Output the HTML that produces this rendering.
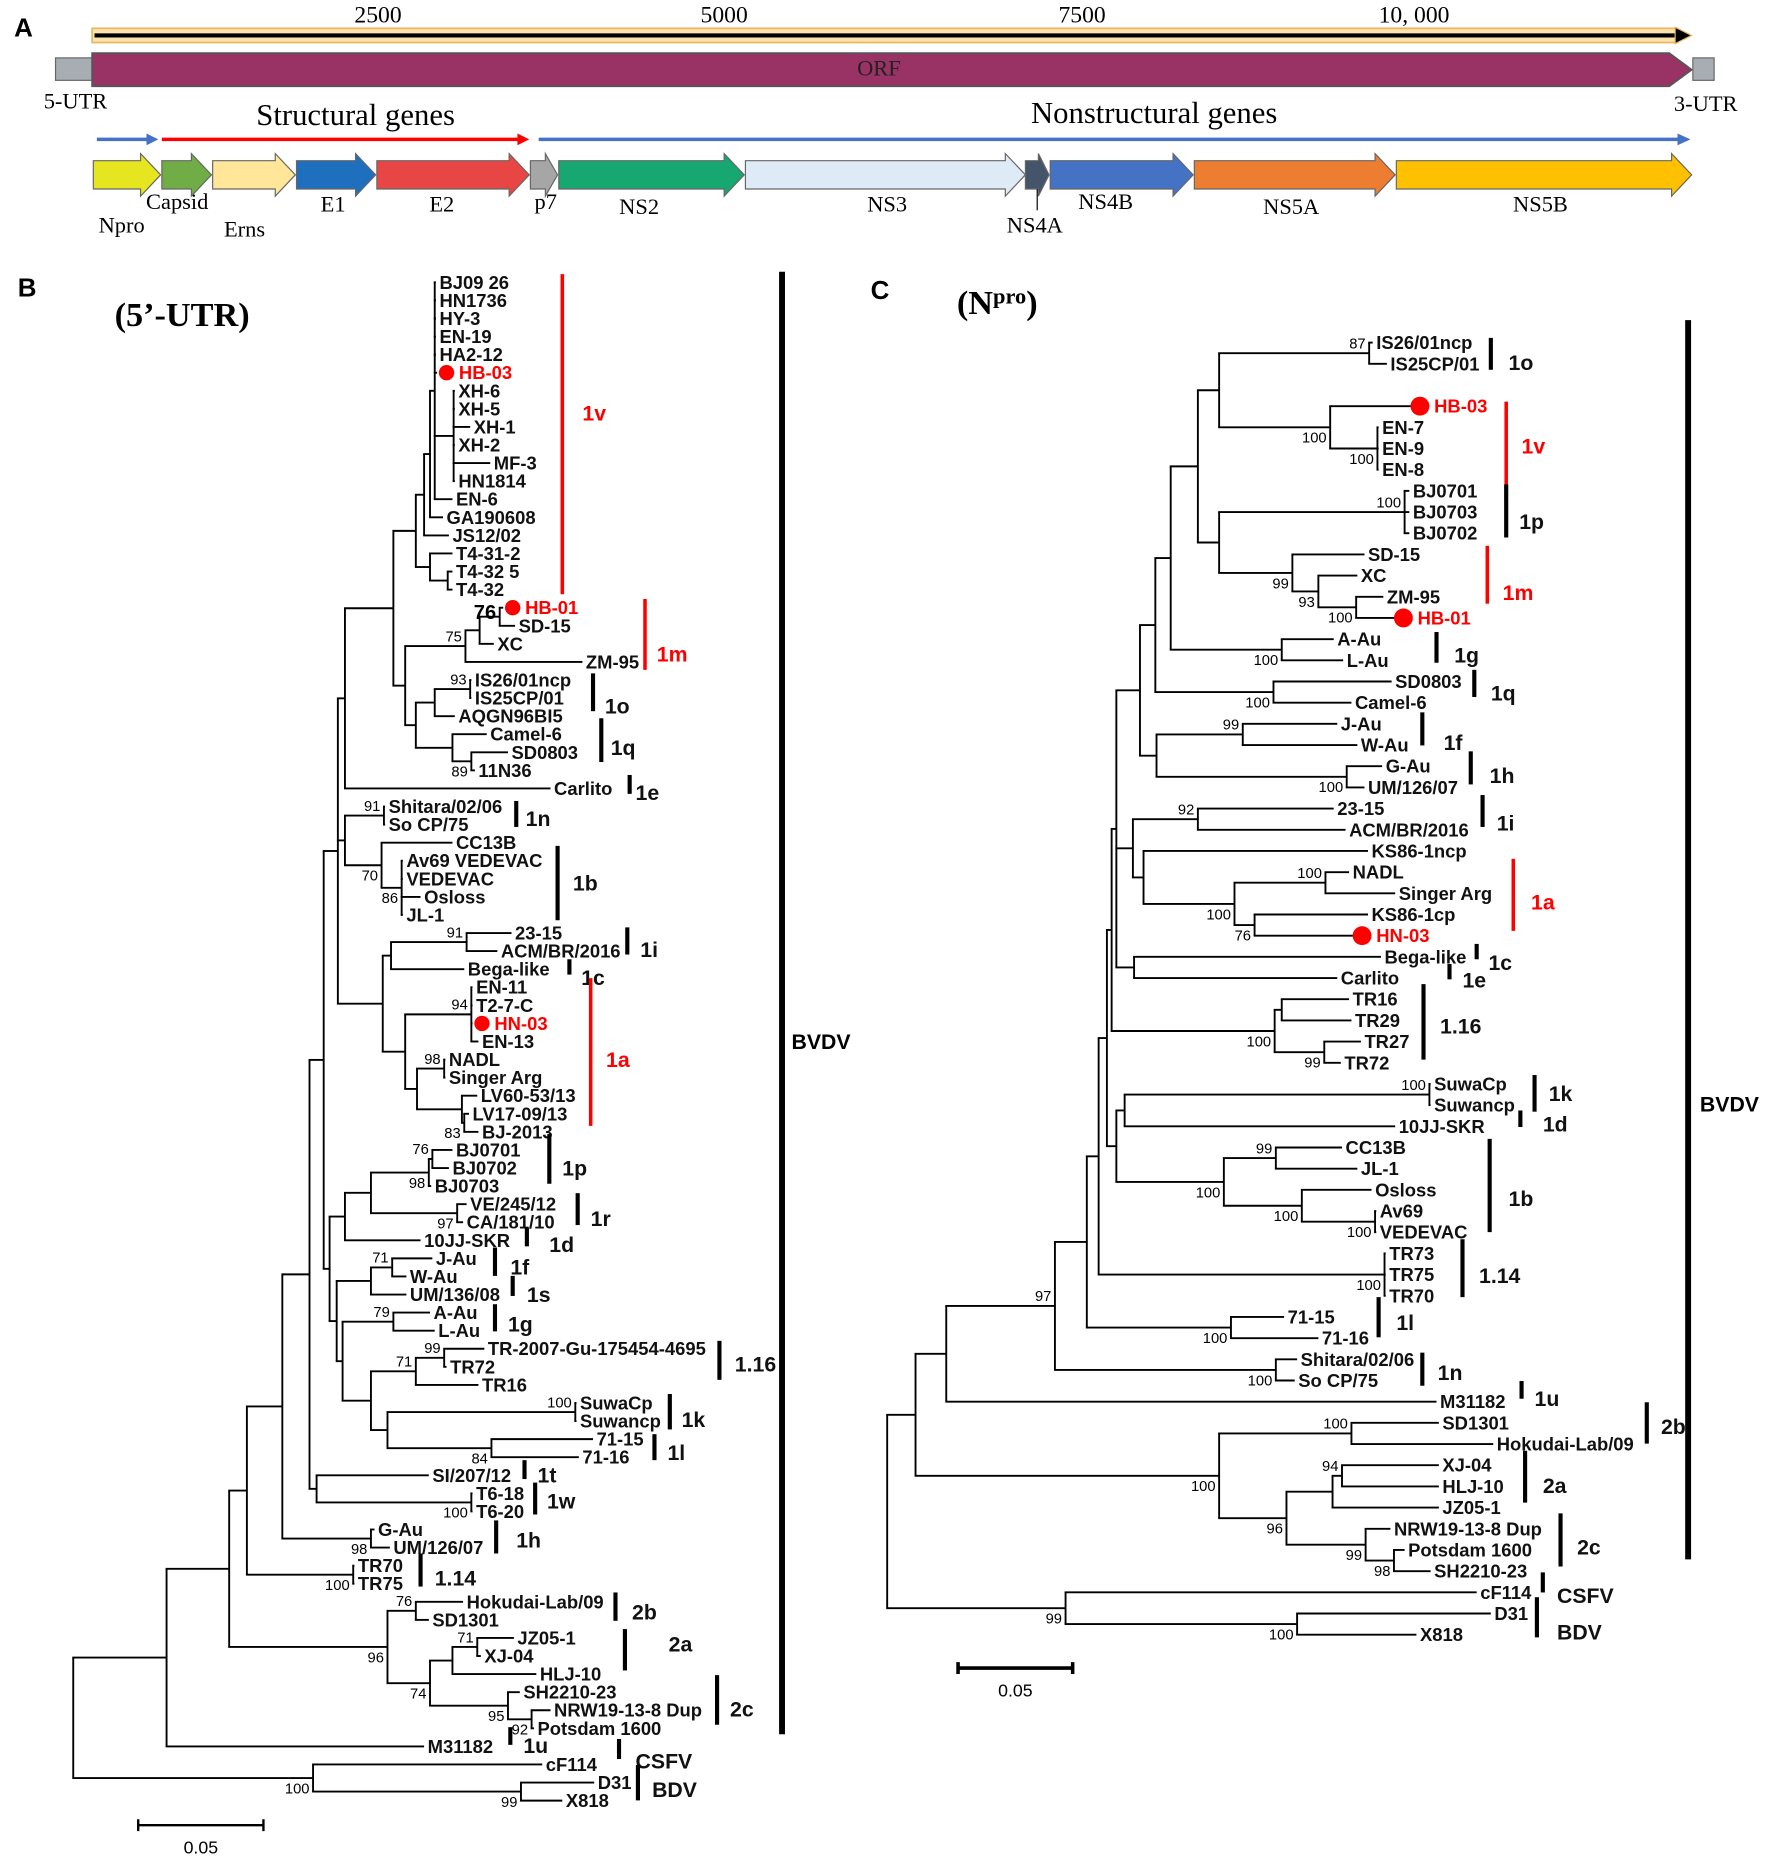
<!DOCTYPE html>
<html><head><meta charset="utf-8"><title>BVDV genome and phylogenetic trees</title>
<style>
html,body{margin:0;padding:0;background:#fff;}
svg{display:block;}
.sf{font-family:"Liberation Serif",serif;}
.ss{font-family:"Liberation Sans",sans-serif;}
</style></head>
<body>
<svg id="fig" width="1772" height="1863" viewBox="0 0 1500 1577" preserveAspectRatio="none" xmlns="http://www.w3.org/2000/svg">
<rect x="0" y="0" width="1500" height="1577" fill="#fff"/>
<!-- Panel A -->
<g>
  <text x="12" y="31" class="ss" font-weight="bold" font-size="22">A</text>
  <g>
    <rect x="78" y="24" width="1342" height="12" fill="#fbe3b0" stroke="#e8b860" stroke-width="1.5"/>
    <line x1="80" y1="30" x2="1422" y2="30" stroke="#000" stroke-width="3.5"/>
    <polygon points="1418,23 1432,30 1418,37" fill="#000" stroke="#e8b860" stroke-width="1"/>
    <text x="320" y="19" class="sf" font-size="20" text-anchor="middle">2500</text>
    <text x="613" y="19" class="sf" font-size="20" text-anchor="middle">5000</text>
    <text x="916" y="19" class="sf" font-size="20" text-anchor="middle">7500</text>
    <text x="1197" y="19" class="sf" font-size="20" text-anchor="middle">10, 000</text>
  </g>
  <rect x="47" y="49" width="31" height="19" fill="#a7adb3" stroke="#666"/>
  <polygon points="78,45 1413,45 1432,59 1413,73 78,73" fill="#993366" stroke="#555" stroke-width="1.5"/>
  <rect x="1433" y="49" width="18" height="19" fill="#a7adb3" stroke="#666"/>
  <text x="744" y="64" class="sf" font-size="19" text-anchor="middle" fill="#222">ORF</text>
  <text x="37" y="92" class="sf" font-size="19">5-UTR</text>
  <text x="1417" y="94" class="sf" font-size="19">3-UTR</text>
  <text x="301" y="106" class="sf" font-size="26" text-anchor="middle">Structural genes</text>
  <text x="977" y="104" class="sf" font-size="26" text-anchor="middle">Nonstructural genes</text>
  <g>
    <line x1="82" y1="118" x2="126" y2="118" stroke="#4472c4" stroke-width="3"/><polygon points="124,113 134,118 124,123" fill="#4472c4"/>
    <line x1="137" y1="118" x2="440" y2="118" stroke="#f00" stroke-width="3"/><polygon points="438,113 448,118 438,123" fill="#f00"/>
    <line x1="456" y1="118" x2="1422" y2="118" stroke="#4472c4" stroke-width="3"/><polygon points="1420,113 1431,118 1420,123" fill="#4472c4"/>
  </g>
  <g id="genes"></g>
  <line x1="878" y1="160" x2="878" y2="178" stroke="#000" stroke-width="1"/>
</g>

<!-- Panel B -->
<g>
  <text x="15" y="251" class="ss" font-weight="bold" font-size="22">B</text>
  <text x="97" y="276" class="sf" font-weight="bold" font-size="29">(5’-UTR)</text>
  <g id="treeB"></g>
</g>
<!-- Panel C -->
<g>
  <text x="737" y="253" class="ss" font-weight="bold" font-size="22">C</text>
  <text x="810" y="266" class="sf" font-weight="bold" font-size="29">(N<tspan font-size="19" dy="-9">pro</tspan><tspan dy="9">)</tspan></text>
  <g id="treeC"></g>
</g>
</svg>
<script>
// ---------- gene map data ----------
const geneNames = ['Npro','Capsid','Erns','E1','E2','p7','NS2','NS3','NS4A','NS4B','NS5A','NS5B'];
const geneStart = [79,137,180,251,319,449,473,631,868,889,1011,1182];
const geneEnd   = [136,179,250,318,448,472,630,868,888,1010,1181,1432];
const geneColor = ['#e6e620','#70ad47','#ffe699','#1f6fbf','#e84545','#a6a6a6','#16a870','#deebf7','#44546a','#4472c4','#ed7d31','#ffc000'];
const geneLabelX = [103,150,207,282,374,462,541,751,876,936,1093,1304];
const geneLabelY = [197,177,200,179,179,177,181,179,197,177,181,179];

// ---------- tree helpers ----------
const N=(l,c,s,p)=>({l:l,c:c,s:s,p:p});
const T=(l,n)=>({l:l,n:n});

// Tree B (5'-UTR) branch lengths in scale units (106 units = 0.05 subs/site)
const treeB = N(0,[
 N(79,[
  N(53,[
   N(15,[
    N(30,[
     N(23,[
      N(12,[
       N(12,[
        N(6,[
         N(41,[
          N(19,[
           N(7,[
            N(5,[
             N(4,[T(1,'BJ09 26'),T(1,'HN1736'),T(1,'HY-3'),T(1,'EN-19'),T(1,'HA2-12'),T(2,'*HB-03'),
               N(16,[T(1,'XH-6'),T(1,'XH-5'),T(14,'XH-1'),T(1,'XH-2'),T(31,'MF-3'),T(1,'HN1814')]),
               T(15,'EN-6')]),
             T(11,'GA190608')]),
            T(21,'JS12/02')]),
           N(12,[T(19,'T4-31-2'),N(15,[T(4,'T4-32 5'),T(4,'T4-32')])])]),
          N(10,[
           N(51,[N(12,[N(17,[T(3,'*HB-01'),T(13,'SD-15')],'76','big'),T(12,'XC')]),T(99,'ZM-95')],'75'),
           N(9,[N(16,[N(30,[T(1,'IS26/01ncp'),T(1,'IS25CP/01')],'93'),T(17,'AQGN96BI5')]),
                N(31,[T(29,'Camel-6'),N(16,[T(31,'SD0803'),T(3,'11N36')],'89','b')])])])]),
         T(174,'Carlito')]),
        N(6,[N(33,[T(1,'Shitara/02/06'),T(1,'So CP/75')],'91'),
             N(31,[T(60,'CC13B'),N(17,[T(1,'Av69 VEDEVAC'),T(1,'VEDEVAC'),T(16,'Osloss'),T(1,'JL-1')],'86','b')],'70','b')]),
        N(38,[N(7,[N(64,[T(38,'23-15'),T(26,'ACM/BR/2016')],'91'),T(62,'Bega-like')]),
              N(19,[N(56,[T(1,'EN-11'),T(1,'T2-7-C'),T(1,'*HN-03'),T(6,'EN-13')],'94'),
                    N(10,[N(23,[T(1,'NADL'),T(1,'Singer Arg')],'98'),N(38,[T(13,'LV60-53/13'),N(2,[T(4,'LV17-09/13'),T(12,'BJ-2013')],'83','b')])])])])]),
       N(5,[
        N(13,[N(22,[N(49,[N(3,[T(17,'BJ0701'),T(14,'BJ0702')],'76'),T(2,'BJ0703')],'98','b'),N(73,[T(8,'VE/245/12'),T(5,'CA/181/10')],'97','b')]),T(64,'10JJ-SKR')]),
        N(6,[N(29,[N(18,[T(34,'J-Au'),T(12,'W-Au')],'71'),T(30,'UM/136/08')]),
             N(5,[N(43,[T(31,'A-Au'),T(35,'L-Au')],'79'),
                  N(24,[N(38,[N(24,[T(34,'TR-2007-Gu-175454-4695'),T(2,'TR72')],'99'),T(53,'TR16')],'71'),
                        N(14,[N(159,[T(1,'SuwaCp'),T(1,'Suwancp')],'100'),N(88,[T(86,'71-15'),T(74,'71-16')],'84','b')])])])])])]),
      N(6,[T(95,'SI/207/12'),N(131,[T(1,'T6-18'),T(1,'T6-20')],'100','b')])]),
     N(75,[T(3,'G-Au'),T(16,'UM/126/07')],'98','b')]),
    N(90,[T(1,'TR70'),T(1,'TR75')],'100','b')]),
   N(134,[N(24,[T(40,'Hokudai-Lab/09'),T(11,'SD1301')],'76'),
          N(36,[N(19,[N(21,[T(31,'JZ05-1'),T(3,'XJ-04')],'71'),T(71,'HLJ-10')]),
                N(66,[T(10,'SH2210-23'),N(20,[T(16,'NRW19-13-8 Dup'),T(2,'Potsdam 1600')],'92','b')],'95','b')],'74','b')],'96','b')]),
  T(218,'M31182')]),
 N(203,[T(194,'cF114'),N(176,[T(62,'D31'),T(35,'X818')],'99','b')],'100','b')
]);

// Tree C (Npro) branch lengths in scale units (97 units = 0.05 subs/site)
const treeC = N(0,[
 N(24,[
  N(26,[
   N(92,[
    N(27,[
     N(10,[
      N(7,[
       N(4,[
        N(4,[
         N(20,[
          N(13,[
           N(13,[
            N(23,[
             N(18,[N(127,[T(3,'IS26/01ncp'),T(15,'IS25CP/01')],'87'),'GAP',
                   N(94,[T(70,'*HB-03'),N(40,[T(1,'EN-7'),T(1,'EN-9'),T(1,'EN-8')],'100','b')],'100','b')]),
             N(18,[N(157,[T(4,'BJ0701'),T(4,'BJ0703'),T(4,'BJ0702')],'100'),
                   N(62,[T(61,'SD-15'),N(22,[T(33,'XC'),N(32,[T(23,'ZM-95'),T(34,'*HB-01')],'100','b')],'93','b')],'99','b')])]),
            N(94,[T(44,'A-Au'),T(52,'L-Au')],'100','b')]),
           N(100,[T(100,'SD0803'),T(66,'Camel-6')],'100','b')]),
          N(14,[N(73,[T(80,'J-Au'),T(97,'W-Au')],'99'),N(161,[T(30,'G-Au'),T(15,'UM/126/07')],'100','b')])]),
         N(14,[N(55,[T(115,'23-15'),T(125,'ACM/BR/2016')],'92'),
               N(9,[T(190,'KS86-1ncp'),N(77,[N(77,[T(20,'NADL'),T(59,'Singer Arg')],'100'),N(17,[T(96,'KS86-1cp'),T(85,'*HN-03')],'76','b')],'100','b')])]),
         N(15,[T(209,'Bega-like'),T(172,'Carlito')])]),
        N(138,[N(6,[T(57,'TR16'),T(59,'TR29')]),N(42,[T(31,'TR27'),T(14,'TR72')],'99','b')],'100','b')]),
       N(8,[N(7,[N(258,[T(1,'SuwaCp'),T(1,'Suwancp')],'100'),T(229,'10JJ-SKR')]),
            N(91,[N(44,[T(56,'CC13B'),T(69,'JL-1')],'99'),N(66,[T(59,'Osloss'),N(62,[T(1,'Av69'),T(1,'VEDEVAC')],'100','b')],'100','b')],'100','b')])]),
      N(242,[T(1,'TR73'),T(1,'TR75'),T(1,'TR70')],'100','b')]),
     N(122,[T(45,'71-15'),T(74,'71-16')],'100','b')]),
    N(187,[T(18,'Shitara/02/06'),T(16,'So CP/75')],'100','b')],'97'),
   T(415,'M31182')]),
  N(257,[N(112,[T(74,'SD1301'),T(120,'Hokudai-Lab/09')],'100'),
         N(57,[N(39,[N(8,[T(82,'XJ-04'),T(82,'HLJ-10')],'94'),T(90,'JZ05-1')]),
               N(67,[T(21,'NRW19-13-8 Dup'),N(24,[T(9,'Potsdam 1600'),T(31,'SH2210-23')],'98','b')],'99','b')],'96','b')],'100','b')]),
 N(151,[T(348,'cF114'),N(196,[T(164,'D31'),T(101,'X818')],'100','b')],'99','b')
]);

// clade annotations
const cladeB = ['1v','1m','1o','1q','1e','1n','1b','1i','1c','1a','1p','1r','1d','1f','1s','1g','1.16','1k','1l','1t','1w','1h','1.14','2b','2a','2c','1u','CSFV','BDV'];
const cladeBBarX = [476,546,502,509,533,437,472,531,482,500,465,489,446,419,434,419,609,567,554,444,453,420,356,521,529,607,432,524,540];
const cladeBTop = [232,507,570,608,656,678,716,785,812,828,960,1010,1039,1056,1080,1104,1135,1180,1214,1236,1255,1287,1315,1348,1379,1418,1462,1472,1494];
const cladeBBot = [503,567,602,645,672,700,779,808,825,953,1002,1037,1055,1080,1097,1127,1168,1210,1236,1252,1282,1315,1343,1372,1414,1460,1477,1489,1524];
const cladeBLabX = [493,556,512,517,538,445,485,542,492,513,476,500,465,432,446,430,622,577,565,455,463,437,368,535,566,618,443,538,552];
const cladeBLabY = [350,554,598,633,671,693,748,804,828,897,989,1032,1054,1073,1096,1121,1155,1202,1230,1249,1271,1304,1336,1365,1392,1447,1478,1491,1515];
const cladeBRed = [1,1,0,0,0,0,0,0,0,1,0,0,0,0,0,0,0,0,0,0,0,0,0,0,0,0,0,0,0];

const cladeC = ['1o','1v','1p','1m','1g','1q','1f','1h','1i','1a','1c','1e','1.16','1k','1d','1b','1.14','1l','1n','1u','2b','2a','2c','CSFV','BDV'];
const cladeCBarX = [1262,1275,1275,1259,1216,1248,1204,1245,1255,1281,1250,1227,1205,1299,1287,1261,1238,1167,1204,1288,1394,1291,1321,1306,1301];
const cladeCTop = [286,340,410,462,535,567,603,636,673,727,799,816,833,910,940,964,1049,1098,1145,1169,1187,1228,1281,1331,1352];
const cladeCBot = [313,424,455,511,561,590,631,664,700,788,812,829,897,941,954,1043,1098,1132,1173,1184,1222,1272,1326,1348,1386];
const cladeCLabX = [1277,1288,1286,1272,1231,1262,1222,1261,1267,1296,1260,1238,1219,1311,1306,1277,1252,1182,1217,1299,1406,1306,1335,1318,1318];
const cladeCLabY = [307,378,442,502,555,587,629,657,697,764,815,830,869,926,952,1015,1080,1120,1162,1184,1208,1258,1310,1351,1382];
const cladeCRed = [0,1,0,1,0,0,0,0,0,1,0,0,0,0,0,0,0,0,0,0,0,0,0,0,0];

const NS='http://www.w3.org/2000/svg';
function mk(tag, attrs, parent){const e=document.createElementNS(NS,tag);for(const k in attrs)e.setAttribute(k,attrs[k]);parent.appendChild(e);return e;}

// ---------- draw genes ----------
const gG=document.getElementById('genes');
for(let i=0;i<geneNames.length;i++){
  const x1=geneStart[i], x2=geneEnd[i], h=Math.min(17,(x2-x1)*0.45);
  const p=mk('polygon',{points:`${x1},136 ${x2-h},136 ${x2-h},130 ${x2},148 ${x2-h},166 ${x2-h},160 ${x1},160`,fill:geneColor[i],stroke:'#666','stroke-width':1},gG);
  
  
  const t=mk('text',{x:geneLabelX[i],y:geneLabelY[i],'text-anchor':'middle','font-size':19,'font-family':'"Liberation Serif",serif'},gG);
  t.textContent=geneNames[i];
  
  
}

// ---------- tree layout & draw ----------
function layout(node, px, st, cfg){
  node.x = px + node.l*cfg.k;
  if(node.n!==undefined){ node.y = cfg.y0 + st.i*cfg.dy; st.i++; return; }
  const kids=[];
  for(const c of node.c){ if(c==='GAP'){st.i++;continue;} layout(c,node.x,st,cfg); kids.push(c); }
  node.kids=kids;
  node.y=(kids[0].y+kids[kids.length-1].y)/2;
}
function drawTree(root, cfg, g){
  layout(root, cfg.rootX, {i:0}, cfg);
  const lw=1.6;
  (function rec(n){
    if(n.n!==undefined){
      let name=n.n, red=false;
      if(name[0]==='*'){red=true;name=name.slice(1);}
      let tx=n.x+3;
      if(red){
        const d=mk('circle',{cx:n.x+cfg.dotOff,cy:n.y,r:cfg.dotR,fill:'#f00'},g);
        
        
        tx=n.x+cfg.dotOff+cfg.dotR+4;
      }
      const t=mk('text',{x:tx,y:n.y+5.5,'font-size':cfg.fs,'font-weight':'bold','font-family':'"Liberation Sans",sans-serif',fill:red?'#f00':'#111'},g);
      t.textContent=name;
      
      
      return;
    }
    const v=mk('line',{x1:n.x,y1:n.kids[0].y,x2:n.x,y2:n.kids[n.kids.length-1].y,stroke:'#000','stroke-width':lw},g);
    
    
    for(const c of n.kids){
      const h=mk('line',{x1:n.x-lw/2,y1:c.y,x2:c.x,y2:c.y,stroke:'#000','stroke-width':lw},g);
      
      
      rec(c);
    }
    if(n.s){
      const big=n.p==='big';
      const yy = n.p==='b' ? n.y+13 : n.y-4;
      const s=mk('text',{x:n.x-3,y:big?n.y+2:yy,'text-anchor':'end','font-size':big?17:12.5,'font-weight':big?'bold':'normal','font-family':'"Liberation Sans",sans-serif'},g);
      s.textContent=n.s;
      
      
    }
  })(root);
  for(let i=0;i<cfg.cl.length;i++){
    const red=cfg.red[i];
    const b=mk('line',{x1:cfg.bx[i],y1:cfg.top[i],x2:cfg.bx[i],y2:cfg.bot[i],stroke:red?'#f00':'#000','stroke-width':red?3:3.5},g);
    
    
    const t=mk('text',{x:cfg.lx[i],y:cfg.ly[i]+6,'font-size':18,'font-weight':'bold','font-family':'"Liberation Sans",sans-serif',fill:red?'#f00':'#111'},g);
    t.textContent=cfg.cl[i];
    
    
  }
  const bb=mk('line',{x1:cfg.bvX,y1:cfg.bvTop,x2:cfg.bvX,y2:cfg.bvBot,stroke:'#000','stroke-width':5},g);
  
  
  const bl=mk('text',{x:cfg.bvX+cfg.bvLOff,y:cfg.bvLY,'font-size':18,'font-weight':'bold','font-family':'"Liberation Sans",sans-serif'},g);
  bl.textContent='BVDV';
  
  
  const sx=cfg.sbX, sw=cfg.sbUnits*cfg.k;
  const sb=mk('path',{d:`M${sx},${cfg.sbY-5}V${cfg.sbY+5}M${sx},${cfg.sbY}H${sx+sw}M${sx+sw},${cfg.sbY-5}V${cfg.sbY+5}`,stroke:'#000','stroke-width':cfg.sbW,fill:'none'},g);
  
  
  const st=mk('text',{x:sx+sw/2,y:cfg.sbY+24,'text-anchor':'middle','font-size':15,'font-family':'"Liberation Sans",sans-serif'},g);
  st.textContent=cfg.sbLabel;
  
  
}

drawTree(treeB,{rootX:62,y0:239,dy:15.3,k:1,fs:15.6,dotOff:8,dotR:6.5,
  cl:cladeB,bx:cladeBBarX,top:cladeBTop,bot:cladeBBot,lx:cladeBLabX,ly:cladeBLabY,red:cladeBRed,
  bvX:662,bvTop:230,bvBot:1468,bvLY:888,bvLOff:8,sbX:117,sbY:1545,sbUnits:106,sbW:2,sbLabel:'0.05'},document.getElementById('treeB'));
drawTree(treeC,{rootX:751,y0:290,dy:17.93,k:1,fs:15.6,dotOff:6,dotR:8,
  cl:cladeC,bx:cladeCBarX,top:cladeCTop,bot:cladeCBot,lx:cladeCLabX,ly:cladeCLabY,red:cladeCRed,
  bvX:1429,bvTop:271,bvBot:1320,bvLY:941,bvLOff:10,sbX:811,sbY:1412,sbUnits:97,sbW:3,sbLabel:'0.05'},document.getElementById('treeC'));
</script>
</body></html>
